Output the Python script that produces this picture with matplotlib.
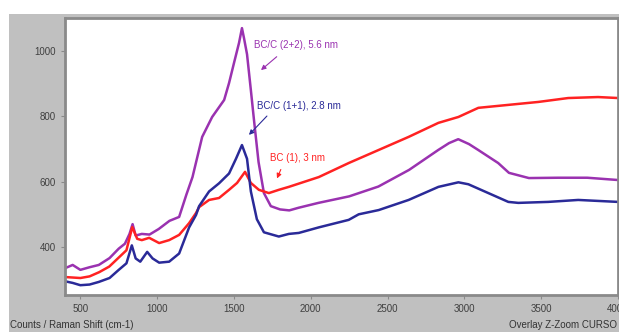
import matplotlib
matplotlib.use('Agg')
import matplotlib.pyplot as plt
from matplotlib.patches import Rectangle

plt.rcParams['font.family'] = ['Liberation Sans', 'DejaVu Sans']

# Raman shift (cm-1) / counts
purple_x = [400, 450, 500, 560, 620, 690, 750, 790, 820, 840, 860, 900, 950, 1010, 1080,
            1143, 1190, 1230, 1293, 1358, 1436, 1468, 1500, 1533, 1552, 1565, 1585, 1610,
            1630, 1660, 1695, 1740, 1800, 1860, 1920, 2050, 2250, 2440, 2640, 2830, 2900,
            2960, 3030, 3090, 3220, 3290, 3420, 3610, 3800, 4000]
purple_y = [335, 345, 330, 338, 345, 366, 395, 410, 440, 470, 435, 440, 438, 455, 480,
            492, 560, 614, 737, 798, 850, 902, 963, 1025, 1070, 1040, 990, 880,
            790, 660, 565, 525, 515, 512, 520, 535, 555, 585, 636, 697, 718,
            730, 715, 697, 657, 627, 611, 612, 612, 605]

blue_x = [400, 450, 500, 560, 620, 690, 750, 800, 835, 860, 890, 935, 970, 1013, 1078,
          1143, 1208, 1253, 1273, 1338, 1403, 1468, 1513, 1552, 1585, 1610, 1649, 1695,
          1792, 1857, 1922, 2052, 2247, 2312, 2442, 2637, 2831, 2961, 3026, 3156, 3286,
          3351, 3546, 3741, 4000]
blue_y = [295, 290, 283, 285, 293, 305, 330, 350, 405, 365, 355, 385, 365, 352, 355,
          380, 460, 498, 525, 570, 595, 625, 670, 712, 670, 570, 485, 445,
          432, 440, 443, 460, 483, 500, 513, 544, 584, 598, 592, 565, 538,
          535, 538, 544, 538]

red_x = [400, 500, 560, 623, 688, 753, 800, 838, 870, 900, 948, 1013, 1078, 1143, 1208,
         1253, 1273, 1338, 1403, 1468, 1520, 1572, 1610, 1662, 1727, 1792, 1857, 2052,
         2247, 2442, 2637, 2831, 2961, 3091, 3286, 3481, 3676, 3870, 4000]
red_y = [308, 305, 310, 323, 340, 369, 390, 461, 425, 421, 428, 412, 421, 437, 473,
         504, 522, 544, 550, 575, 596, 630, 596, 575, 565, 575, 584, 614,
         657, 697, 737, 780, 798, 826, 835, 844, 856, 859, 856]

x_ticks = [500, 1000, 1500, 2000, 2500, 3000, 3500, 4000]
y_ticks = [400, 600, 800, 1000]

c_purple = '#9a32b0'
c_blue = '#2a2a98'
c_red = '#ff2222'

fig = plt.figure(figsize=(6.19, 3.32), dpi=100, facecolor='white')
fig.patches.append(Rectangle((9 / 619, 0), 1, 1 - 14 / 332, transform=fig.transFigure,
                             facecolor='#c0c0c0', edgecolor='none', zorder=-10))

ax = fig.add_axes([65 / 619, 1 - 295 / 332, 553 / 619, 277 / 332])
ax.set_facecolor('white')

ax.plot(purple_x, purple_y, color=c_purple, lw=1.8)
ax.plot(red_x, red_y, color=c_red, lw=1.8)
ax.plot(blue_x, blue_y, color=c_blue, lw=1.8)

ax.set_xlim(400, 4000)
ax.set_ylim(253, 1101)
ax.set_xticks(x_ticks)
ax.set_yticks(y_ticks)
ax.tick_params(labelsize=7, colors='#8a8a8a', labelcolor='#404040', length=3, width=0.8)
for s in ax.spines.values():
    s.set_color('#8a8a8a')
    s.set_linewidth(2)

ax.annotate('BC/C (2+2), 5.6 nm', xy=(1662, 936), xytext=(1630, 1019), fontsize=7,
            color=c_purple, va='center')
ax.annotate('', xy=(1662, 936), xytext=(1792, 988),
            arrowprops=dict(arrowstyle='-|>', color=c_purple, lw=0.8, mutation_scale=7))
ax.annotate('BC/C (1+1), 2.8 nm', xy=(1585, 737), xytext=(1650, 832), fontsize=7,
            color=c_blue, va='center')
ax.annotate('', xy=(1585, 737), xytext=(1727, 807),
            arrowprops=dict(arrowstyle='-|>', color=c_blue, lw=0.8, mutation_scale=7))
ax.annotate('BC (1), 3 nm', xy=(1773, 602), xytext=(1734, 673), fontsize=7,
            color=c_red, va='center')
ax.annotate('', xy=(1773, 602), xytext=(1812, 645),
            arrowprops=dict(arrowstyle='-|>', color=c_red, lw=0.8, mutation_scale=7))

fig.text(10 / 619, 1 - 325 / 332, 'Counts / Raman Shift (cm-1)', fontsize=7,
         color='#333333', va='center', ha='left')
fig.text(617 / 619, 1 - 325 / 332, 'Overlay Z-Zoom CURSO', fontsize=7,
         color='#333333', va='center', ha='right')

fig.savefig('out.png', dpi=100, facecolor=fig.get_facecolor())
